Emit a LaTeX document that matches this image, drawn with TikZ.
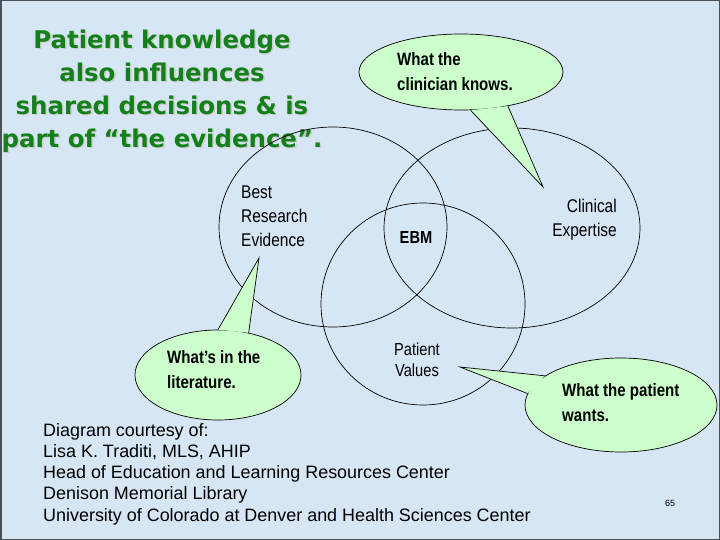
\documentclass[tikz,border=0pt]{standalone}
\usepackage{fontspec}
\setmainfont{Liberation Sans}
\newfontfamily\titlefont{DejaVu Sans}
\newfontfamily\narrowfont[FakeStretch=0.84]{Liberation Sans}
\usetikzlibrary{shapes.geometric,positioning}
\definecolor{slidebg}{HTML}{D7E6F4}
\definecolor{titlegreen}{HTML}{14801C}
\definecolor{bubblegreen}{HTML}{CCFFCC}
\definecolor{framegray}{HTML}{4A5058}

\begin{document}
\begin{tikzpicture}[
        x=1bp, y=-1bp,
        ring/.style={
          draw,
          ellipse,
          inner sep=0pt,
          line width=0.7bp
        },
        bubble/.style={
          draw,
          ellipse,
          inner sep=0pt,
          fill=bubblegreen,
          line width=0.7bp
        },
        ringlabel/.style={
          inner sep=0pt,
          font=\narrowfont\fontsize{18.5}{24}\selectfont
        },
        bubbletext/.style={
          inner sep=0pt,
          align=left,
          anchor=west,
          font=\narrowfont\bfseries\fontsize{18}{25}\selectfont
        },
        titletext/.style={
          inner sep=0pt,
          align=center,
          font=\titlefont\bfseries\fontsize{24.5}{33}\selectfont
        }
      ]

      \useasboundingbox (0,0) rectangle (720,540);
      \fill[slidebg] (0,0) rectangle (720,540);
      \draw[framegray, line width=1.5bp] (0.75,0.75) rectangle (719.25,539.25);

      % heading
      \node[titletext, text=gray!40] at (163.5,92.5) {Patient knowledge\\also influences\\shared decisions \& is\\part of “the evidence”.};
      \node[titletext, text=titlegreen] (title) at (162,91) {Patient knowledge\\also influences\\shared decisions \& is\\part of “the evidence”.};

      % the three rings
      \node[ring, minimum width=228bp, minimum height=200bp] (bestring) at (333,227) {};
      \node[ring, minimum width=256bp, minimum height=200bp] (clinring) at (512,228) {};
      \node[ring, minimum width=204bp, minimum height=202bp] (patring) at (423,304) {};

      \node[ringlabel, anchor=west, align=left] (best) at (241,216) {Best\\Research\\Evidence};
      \node[ringlabel, anchor=east, align=right] (clin) at (617,220) {Clinical\\Expertise};
      \node[ringlabel, align=center, font=\narrowfont\fontsize{17.5}{21}\selectfont] (pat) at (417,360) {Patient\\Values};
      \node[inner sep=0pt, font=\narrowfont\bfseries\fontsize{17.5}{20}\selectfont] (ebm) at (416,238) {EBM};

      % callouts
      \node[bubble, minimum width=204bp, minimum height=76bp] (knowsbub) at (461,72) {};
      \coordinate (knowstip) at (543,187);
      \fill[bubblegreen] (knowsbub.-76) -- (knowstip) -- (knowsbub.-36) -- cycle;
      \draw[line width=0.7bp] (knowsbub.-76) -- (knowstip) -- (knowsbub.-36);
      \node[bubbletext] (knows) at (397,72) {What the\\clinician knows.};

      \node[bubble, minimum width=166bp, minimum height=90bp] (litbub) at (218,375) {};
      \coordinate (littip) at (259,258);
      \fill[bubblegreen] (litbub.90) -- (littip) -- (litbub.54) -- cycle;
      \draw[line width=0.7bp] (litbub.90) -- (littip) -- (litbub.54);
      \node[bubbletext] (lit) at (167,370) {What’s in the\\literature.};

      \node[bubble, minimum width=192bp, minimum height=94bp] (wantbub) at (621,405) {};
      \coordinate (wanttip) at (460,367);
      \fill[bubblegreen] (wantbub.159) -- (wanttip) -- (wantbub.173) -- cycle;
      \draw[line width=0.7bp] (wantbub.159) -- (wanttip) -- (wantbub.173);
      \node[bubbletext] (want) at (562,403) {What the patient\\wants.};

      % credits
      \node[inner sep=0pt, anchor=west, align=left, font=\fontsize{18}{21.3}\selectfont] (credit) at (43,474) {Diagram courtesy of:\\Lisa K. Traditi, MLS, AHIP\\Head of Education and Learning Resources Center\\Denison Memorial Library\\University of Colorado at Denver and Health Sciences Center};
      \node[inner sep=0pt, font=\fontsize{9}{10}\selectfont] (pagenum) at (670,503) {65};

      \end{tikzpicture}
\end{document}
